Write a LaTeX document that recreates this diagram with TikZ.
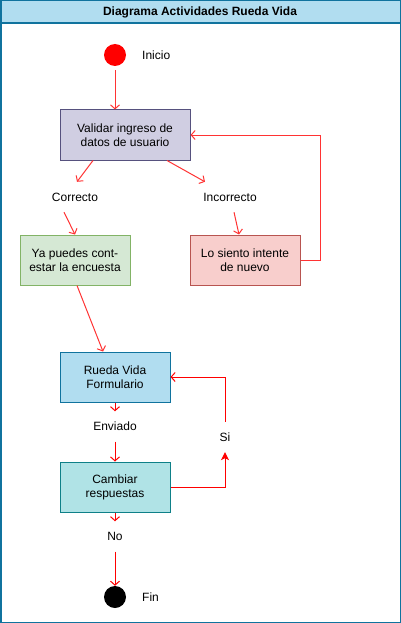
\documentclass[tikz,border=0pt]{standalone}
\usepackage{fontspec}
\setmainfont{Liberation Sans}
\usetikzlibrary{arrows.meta,calc}
\definecolor{frameblue}{HTML}{10739E}
\definecolor{titlefill}{HTML}{B1DDF0}
\definecolor{valfill}{HTML}{D0CEE2}
\definecolor{valdraw}{HTML}{56517E}
\definecolor{okfill}{HTML}{D5E8D4}
\definecolor{okdraw}{HTML}{82B366}
\definecolor{badfill}{HTML}{F8CECC}
\definecolor{baddraw}{HTML}{B85450}
\definecolor{tealfill}{HTML}{B0E3E6}
\definecolor{tealdraw}{HTML}{0E8088}
\definecolor{lred}{HTML}{FF3333}
\definecolor{dred}{HTML}{FF0000}
\begin{document}
\begin{tikzpicture}[x=1pt,y=-1pt,
  font=\fontsize{12}{14}\selectfont,
  actbox/.style={draw,line width=1pt,minimum width=110pt,minimum height=50pt,align=center,inner sep=0pt},
  lbl/.style={minimum width=60pt,minimum height=30pt,inner sep=0pt},
  flow/.style={draw=lred,line width=1pt,-{Straight Barb[length=4pt,width=9pt]}},
  flowd/.style={draw=dred,line width=1pt,-{Straight Barb[length=4pt,width=9pt]}},
  flowf/.style={draw=dred,line width=1pt,-{Stealth[length=8pt,width=8pt,inset=2pt]}}]
\useasboundingbox (0,0) rectangle (401,623);
% frame and title
\fill[titlefill] (0.75,0.75) rectangle (400.25,23);
\draw[frameblue,line width=1.5pt] (0.75,23) -- (400.25,23);
\draw[frameblue,line width=1.5pt] (0.75,0.75) rectangle (400.25,622.25);
\node[font=\fontsize{12}{14}\selectfont\bfseries] (title) at (200,12) {Diagrama Actividades Rueda Vida};
% start / end
\node[circle,fill=red,minimum size=22pt,inner sep=0pt] (ini) at (115,55) {};
\node[anchor=west,inner sep=0pt] (inilbl) at (142,55) {Inicio};
\node[circle,fill=black,minimum size=22pt,inner sep=0pt] (fin) at (115,597) {};
\node[anchor=west,inner sep=0pt] (finlbl) at (142,597) {Fin};
% boxes
\node[actbox,fill=valfill,draw=valdraw,minimum width=130pt] (val) at (125,135) {Validar ingreso de\\datos de usuario};
\node[actbox,fill=okfill,draw=okdraw] (ya) at (75,260) {Ya puedes cont-\\estar la encuesta};
\node[actbox,fill=badfill,draw=baddraw] (lo) at (245,260) {Lo siento intente\\de nuevo};
\node[actbox,fill=titlefill,draw=frameblue] (rue) at (115,377) {Rueda Vida\\Formulario};
\node[actbox,fill=tealfill,draw=tealdraw] (cam) at (115,487) {Cambiar\\respuestas};
% labels
\node[lbl] (cor) at (75,197) {Correcto};
\node[lbl] (inc) at (230,197) {Incorrecto};
\node[lbl] (env) at (115,426.5) {Enviado};
\node[lbl] (si) at (225,437) {Si};
\node[lbl] (no) at (115,536.5) {No};
% connectors
\draw[flow] (ini.south) ++(0,4) -- ($(val.north)+(-10,0)$);
\draw[flow] ($(val.south)+(-32,0)$) -- ($(cor.north)+(2,0)$);
\draw[flow] ($(val.south)+(42,0)$) -- ($(inc.north)+(-25,0)$);
\draw[flow] ($(cor.south)+(-11,0)$) -- ($(ya.north)+(0,0)$);
\draw[flow] ($(inc.south)+(4,0)$) -- ($(lo.north)+(-6,0)$);
\draw[flow] (lo.east) -- ++(20,0) |- (val.east);
\draw[flow] ($(ya.south)+(2,0)$) -- ($(rue.north)+(-12,0)$);
\draw[flowd] (rue.south) -- (env.north);
\draw[flowd] (env.south) -- (cam.north);
\draw[flowf] (cam.east) -| (si.south);
\draw[flowd] (si.north) |- (rue.east);
\draw[flowd] (cam.south) -- (no.north);
\draw[flowd] (no.south) -- (fin.north);
\end{tikzpicture}
\end{document}
